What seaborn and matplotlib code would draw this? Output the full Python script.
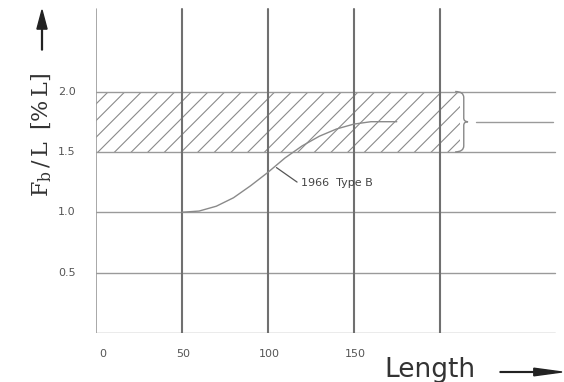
import pandas as pd
import seaborn as sns
import matplotlib.pyplot as plt
from matplotlib.path import Path
from matplotlib.patches import PathPatch, FancyArrow

# curve "1966 Type B"
curve_length = [50, 60, 70, 80, 90, 100, 110, 120, 130, 140, 150, 160, 175]
curve_ratio = [1.00, 1.01, 1.05, 1.12, 1.22, 1.33, 1.45, 1.55, 1.63, 1.69, 1.73, 1.75, 1.75]

x_ticks = [0, 50, 100, 150]
x_grid = [50, 100, 150, 200]
y_ticks = [0.5, 1.0, 1.5, 2.0]
band_low, band_high = 1.5, 2.0
band_end = 212

sns.set_style("white")
plt.rcParams['font.family'] = ['DejaVu Sans']
plt.rcParams['mathtext.fontset'] = 'dejavuserif'
plt.rcParams['hatch.linewidth'] = 0.8

fig = plt.figure(figsize=(5.64, 3.82), dpi=100)
ax = fig.add_axes([96 / 564, 49 / 382, 464 / 564, 326 / 382])
ax.set_xlim(0, 270)
ax.set_ylim(0, 2.7)
for s in ax.spines.values():
    s.set_visible(False)
ax.set_xticks([])
ax.set_yticks([])

grid_col = '#9a9a9a'
vert_col = '#707070'

# horizontal lines
for y in [0] + y_ticks:
    ax.plot([0, 267], [y, y], color=grid_col, lw=1.0, zorder=2)

# vertical lines
ax.plot([0, 0], [0, 2.68], color=grid_col, lw=1.2, zorder=2)
for x in x_grid:
    ax.plot([x, x], [0, 2.68], color=vert_col, lw=1.5, zorder=3)

# hatched tolerance band
ax.fill_between([0, band_end], band_low, band_high, facecolor='none',
                edgecolor='#8a8a8a', hatch='//', lw=0, zorder=1)

# brace on the right of the band
bx = band_end + 2
mid = (band_low + band_high) / 2
verts = [(band_end - 3, band_high), (bx, band_high), (bx, band_high - 0.05),
         (bx, mid + 0.03), (bx, mid), (bx + 2.5, mid),
         (bx, mid), (bx, mid - 0.03),
         (bx, band_low + 0.05), (bx, band_low), (band_end - 3, band_low)]
codes = [Path.MOVETO, Path.CURVE3, Path.CURVE3, Path.LINETO, Path.CURVE3, Path.CURVE3,
         Path.CURVE3, Path.CURVE3, Path.LINETO, Path.CURVE3, Path.CURVE3]
ax.add_patch(PathPatch(Path(verts, codes), facecolor='none', edgecolor='#888888', lw=1.0, zorder=4))
ax.plot([221, 266], [mid, mid], color=grid_col, lw=1.0, zorder=2)

# the curve
df = pd.DataFrame({'Length': curve_length, 'Ratio': curve_ratio})
sns.lineplot(data=df, x='Length', y='Ratio', ax=ax, color='#8a8a8a', lw=1.0, zorder=5)
ax.set_xlabel('')
ax.set_ylabel('')

ax.plot([105, 117], [1.37, 1.25], color='#555555', lw=0.9, zorder=5)
ax.text(119, 1.24, '1966  Type B', fontsize=8, color='#444444', va='center', ha='left')

# tick labels
for x in x_ticks:
    if x == 0:
        ax.text(2, -0.13, '0', fontsize=8, color='#555555', ha='left', va='top')
    else:
        ax.text(x + 1, -0.13, str(x), fontsize=8, color='#555555', ha='center', va='top')
for y in y_ticks:
    ax.text(-17, y, f'{y:.1f}', fontsize=8, color='#555555', ha='center', va='center')

# axis titles with arrows
fig.text(42 / 564, 1 - 135 / 382, r'$\mathrm{F_b\,/\,L\;\;[\%\,L]}$', rotation=90,
         fontsize=16, ha='center', va='center', color='#333333')
fig.text(430 / 564, 1 - 370 / 382, 'Length', fontsize=19, ha='center', va='center',
         color='#333333')
fig.patches.append(FancyArrow(
    42 / 564, 1 - 50 / 382, 0, 40 / 382, width=0.0015, head_width=0.018,
    head_length=0.05, length_includes_head=True, color='#222222', transform=fig.transFigure))
fig.patches.append(FancyArrow(
    500 / 564, 1 - 372 / 382, 62 / 564, 0, width=0.002, head_width=0.02,
    head_length=0.05, length_includes_head=True, color='#222222', transform=fig.transFigure))

fig.savefig('out.png', dpi=100, facecolor='white')
